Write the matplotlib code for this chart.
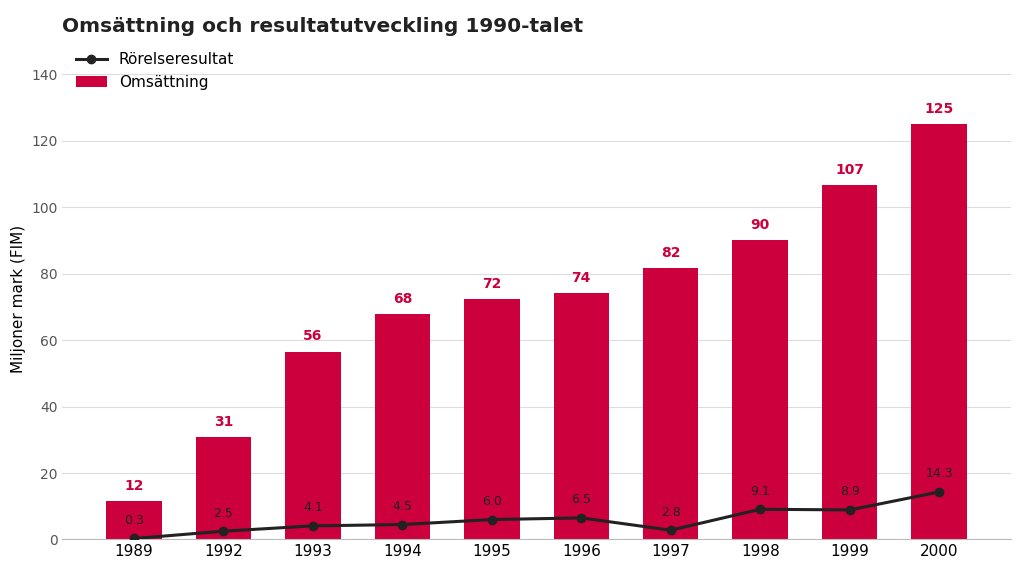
import matplotlib.pyplot as plt
import numpy as np

years = ['1989', '1992', '1993', '1994', '1995', '1996', '1997', '1998', '1999', '2000']
revenue = [11.6, 30.7, 56.5, 67.9, 72.3, 74.1, 81.7, 90.1, 106.6, 125.0]
result = [0.3, 2.5, 4.1, 4.5, 6.0, 6.5, 2.8, 9.1, 8.9, 14.3]

red = '#cc003d'
dark = '#222222'

fig, ax = plt.subplots(figsize=(10.24, 5.77), dpi=100)
x = np.arange(len(years))
bars = ax.bar(x, revenue, width=0.62, color=red, label='Omsättning', zorder=2)
ax.plot(x, result, color=dark, lw=2.2, marker='o', ms=6, label='Rörelseresultat', zorder=3)

for xi, v in zip(x, revenue):
    ax.text(xi, v + 2.5, f'{v:.0f}', ha='center', va='bottom', color=red,
            fontsize=10, fontweight='bold')
for xi, v in zip(x, result):
    ax.text(xi, v + 3.5, f'{v:.1f}', ha='center', va='bottom', color=dark, fontsize=9)

ax.set_xticks(x)
ax.set_xticklabels(years, fontsize=11)
ax.set_ylim(0, 145)
ax.set_yticks(range(0, 141, 20))
ax.tick_params(axis='y', labelsize=10, colors='#555555', length=0)
ax.tick_params(axis='x', length=0)
ax.set_xlim(-0.8, len(years) - 0.2)
ax.grid(axis='y', color='#dddddd', lw=0.8, zorder=0)
ax.set_axisbelow(True)
for s in ['top', 'right', 'left']:
    ax.spines[s].set_visible(False)
ax.spines['bottom'].set_color('#bbbbbb')
ax.set_ylabel('Miljoner mark (FIM)', fontsize=11)
ax.legend(loc='upper left', frameon=False, fontsize=11, bbox_to_anchor=(0.0, 1.04))
fig.text(0.061, 0.945, 'Omsättning och resultatutveckling 1990-talet', fontsize=14.5,
         fontweight='bold', color=dark)
fig.subplots_adjust(left=0.061, right=0.987, top=0.9, bottom=0.065)
fig.savefig('out.png')
